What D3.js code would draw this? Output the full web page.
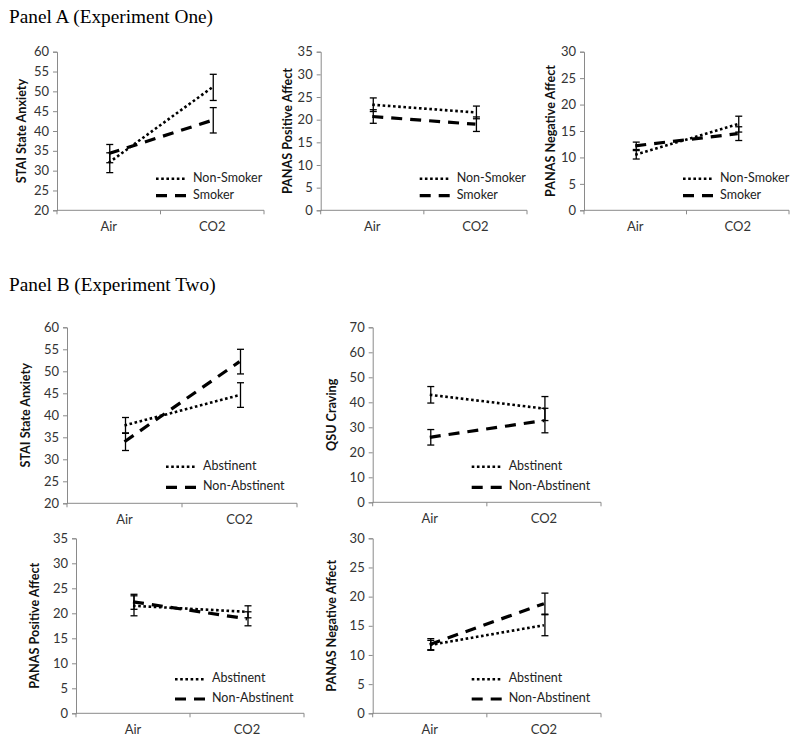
<!DOCTYPE html>
<html>
<head>
<meta charset="utf-8">
<script src="https://cdn.jsdelivr.net/npm/d3@7"></script>
<style>
  html, body { margin: 0; padding: 0; background: #fff; }
  svg { display: block; }
</style>
</head>
<body>
<svg id="chart" width="800" height="745"></svg>
<script>
// ---------------- DATA ----------------
const categories = ["Air", "CO2"];
const panelATitle = "Panel A (Experiment One)";
const panelBTitle = "Panel B (Experiment Two)";
const seriesA = ["Non-Smoker", "Smoker"];
const seriesB = ["Abstinent", "Non-Abstinent"];

// Panel A – STAI State Anxiety
const a1NonSmoker = [32.0, 51.0];
const a1NonSmokerErr = [2.5, 3.3];
const a1Smoker = [34.3, 42.7];
const a1SmokerErr = [2.3, 3.2];
// Panel A – PANAS Positive Affect
const a2NonSmoker = [23.3, 21.6];
const a2NonSmokerErr = [1.5, 1.4];
const a2Smoker = [20.7, 19.0];
const a2SmokerErr = [1.5, 1.6];
// Panel A – PANAS Negative Affect
const a3NonSmoker = [10.5, 16.3];
const a3NonSmokerErr = [0.8, 1.5];
const a3Smoker = [12.2, 14.5];
const a3SmokerErr = [0.7, 1.3];

// Panel B – STAI State Anxiety
const b1Abstinent = [37.7, 44.6];
const b1AbstinentErr = [1.8, 2.8];
const b1NonAbstinent = [34.0, 52.2];
const b1NonAbstinentErr = [2.0, 2.8];
// Panel B – QSU Craving
const b2Abstinent = [43.0, 37.5];
const b2AbstinentErr = [3.3, 4.8];
const b2NonAbstinent = [26.0, 32.7];
const b2NonAbstinentErr = [3.1, 4.9];
// Panel B – PANAS Positive Affect
const b3Abstinent = [21.5, 20.3];
const b3AbstinentErr = [2.0, 1.2];
const b3NonAbstinent = [22.3, 18.9];
const b3NonAbstinentErr = [1.5, 1.4];
// Panel B – PANAS Negative Affect
const b4Abstinent = [11.7, 15.1];
const b4AbstinentErr = [0.8, 1.8];
const b4NonAbstinent = [11.8, 18.8];
const b4NonAbstinentErr = [1.0, 1.8];

// y axes: [min, max, step]
const yA1 = [20, 60, 5];
const yA2 = [0, 35, 5];
const yA3 = [0, 30, 5];
const yB1 = [20, 60, 5];
const yB2 = [0, 70, 10];
const yB3 = [0, 35, 5];
const yB4 = [0, 30, 5];

const titleA1 = "STAI State Anxiety";
const titleA2 = "PANAS Positive Affect";
const titleA3 = "PANAS Negative Affect";
const titleB1 = "STAI State Anxiety";
const titleB2 = "QSU Craving";
const titleB3 = "PANAS Positive Affect";
const titleB4 = "PANAS Negative Affect";

// ---------------- DRAWING ----------------
const svg = d3.select("#chart");
const tickFont = "Lato, 'Open Sans', sans-serif";
const axisColor = "#8a8a8a";

svg.append("text").attr("x", 9).attr("y", 23)
  .attr("font-family", "'Liberation Serif', 'Times New Roman', serif")
  .attr("font-size", 19.3).attr("fill", "#000").text(panelATitle);
svg.append("text").attr("x", 9).attr("y", 291)
  .attr("font-family", "'Liberation Serif', 'Times New Roman', serif")
  .attr("font-size", 19.3).attr("fill", "#000").text(panelBTitle);

const styles = [
  { dash: "2.6,2.6", width: 2.6 },   // dotted
  { dash: "11,8", width: 3.2 }       // dashed
];

function drawChart(cfg) {
  const { x0, x1, yTop, yBot, yDom, title, titleX, names, values, errs, legY } = cfg;
  const g = svg.append("g");
  const x = d3.scaleBand().domain(categories).range([x0, x1]).paddingInner(0).paddingOuter(0);
  const y = d3.scaleLinear().domain([yDom[0], yDom[1]]).range([yBot, yTop]);
  const ticks = d3.range(yDom[0], yDom[1] + yDom[2] / 2, yDom[2]);

  // y axis
  const yAxis = g.append("g").attr("transform", `translate(${x0},0)`)
    .call(d3.axisLeft(y).tickValues(ticks).tickSize(4).tickPadding(4).tickFormat(d3.format("d")));
  yAxis.select(".domain").attr("stroke", axisColor);
  yAxis.selectAll(".tick line").attr("stroke", axisColor);
  yAxis.selectAll(".tick text").attr("font-family", tickFont).attr("font-size", 13).attr("fill", "#333");

  // x axis
  const xAxis = g.append("g").attr("transform", `translate(0,${yBot})`)
    .call(d3.axisBottom(x).tickSize(0).tickPadding(0));
  xAxis.select(".domain").attr("stroke", axisColor).attr("d", `M${x0},0H${x1}`);
  xAxis.selectAll(".tick line").remove();
  xAxis.selectAll(".tick text").attr("font-family", tickFont).attr("font-size", 13)
    .attr("fill", "#333").attr("dy", "1.6em");
  // category boundary ticks
  const bounds = [x0, x0 + x.bandwidth(), x1];
  g.selectAll(".bt").data(bounds).enter().append("line")
    .attr("x1", d => d).attr("x2", d => d).attr("y1", yBot).attr("y2", yBot + 4)
    .attr("stroke", axisColor);

  // y title
  g.append("text")
    .attr("transform", `translate(${titleX},${(yTop + yBot) / 2}) rotate(-90)`)
    .attr("text-anchor", "middle").attr("dominant-baseline", "middle")
    .attr("font-family", tickFont).attr("font-weight", "bold").attr("font-size", 12.6)
    .attr("fill", "#111").text(title);

  const cx = c => x(c) + x.bandwidth() / 2;

  // error bars
  values.forEach((vals, si) => {
    vals.forEach((v, ci) => {
      const e = errs[si][ci];
      const px = cx(categories[ci]) + 1;
      g.append("line").attr("x1", px).attr("x2", px).attr("y1", y(v - e)).attr("y2", y(v + e))
        .attr("stroke", "#000").attr("stroke-width", 1.3);
      [v - e, v + e].forEach(t => {
        g.append("line").attr("x1", px - 3.5).attr("x2", px + 3.5).attr("y1", y(t)).attr("y2", y(t))
          .attr("stroke", "#000").attr("stroke-width", 1.3);
      });
    });
  });

  // lines
  const line = d3.line().x((d, i) => cx(categories[i])).y(d => y(d));
  values.forEach((vals, si) => {
    g.append("path").datum(vals).attr("d", line).attr("fill", "none")
      .attr("stroke", "#000").attr("stroke-width", styles[si].width)
      .attr("stroke-dasharray", styles[si].dash);
  });

  // legend
  names.forEach((n, si) => {
    const ly = legY[si];
    const lx = x0 + 99;
    g.append("line").attr("x1", lx).attr("x2", lx + 31).attr("y1", ly).attr("y2", ly)
      .attr("stroke", "#000").attr("stroke-width", styles[si].width)
      .attr("stroke-dasharray", styles[si].dash);
    g.append("text").attr("x", lx + 37).attr("y", ly).attr("dominant-baseline", "middle")
      .attr("font-family", tickFont).attr("font-size", 12.5).attr("fill", "#222").text(n);
  });
}

drawChart({ x0: 57, x1: 264, yTop: 51.7, yBot: 210.3, yDom: yA1, title: titleA1, titleX: 23,
  names: seriesA, values: [a1NonSmoker, a1Smoker], errs: [a1NonSmokerErr, a1SmokerErr], legY: [178.7, 195.7] });
drawChart({ x0: 320.7, x1: 527, yTop: 51.7, yBot: 210.3, yDom: yA2, title: titleA2, titleX: 289,
  names: seriesA, values: [a2NonSmoker, a2Smoker], errs: [a2NonSmokerErr, a2SmokerErr], legY: [178.7, 195.7] });
drawChart({ x0: 584, x1: 789, yTop: 51.7, yBot: 210.3, yDom: yA3, title: titleA3, titleX: 552,
  names: seriesA, values: [a3NonSmoker, a3Smoker], errs: [a3NonSmokerErr, a3SmokerErr], legY: [178.7, 195.7] });

drawChart({ x0: 67, x1: 297, yTop: 327.3, yBot: 503.3, yDom: yB1, title: titleB1, titleX: 27,
  names: seriesB, values: [b1Abstinent, b1NonAbstinent], errs: [b1AbstinentErr, b1NonAbstinentErr], legY: [466.7, 487.3] });
drawChart({ x0: 372.7, x1: 601, yTop: 327.3, yBot: 502.3, yDom: yB2, title: titleB2, titleX: 333,
  names: seriesB, values: [b2Abstinent, b2NonAbstinent], errs: [b2AbstinentErr, b2NonAbstinentErr], legY: [466.7, 487.3] });
drawChart({ x0: 76, x1: 304, yTop: 538.3, yBot: 713.3, yDom: yB3, title: titleB3, titleX: 36,
  names: seriesB, values: [b3Abstinent, b3NonAbstinent], errs: [b3AbstinentErr, b3NonAbstinentErr], legY: [679.3, 699] });
drawChart({ x0: 372.7, x1: 601, yTop: 538.3, yBot: 713.3, yDom: yB4, title: titleB4, titleX: 333,
  names: seriesB, values: [b4Abstinent, b4NonAbstinent], errs: [b4AbstinentErr, b4NonAbstinentErr], legY: [679.3, 699] });
</script>
</body>
</html>
